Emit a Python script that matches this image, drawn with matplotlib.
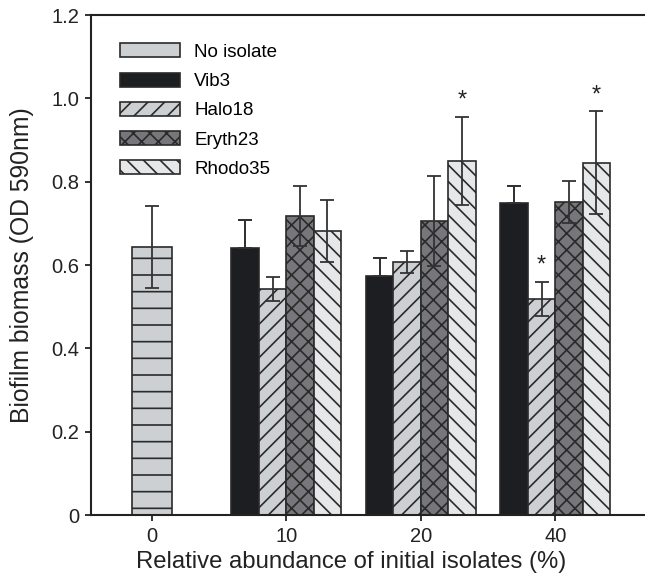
#!/usr/bin/env python3
"""Biofilm biomass vs. relative abundance of initial isolates (grouped bars)."""

import matplotlib.pyplot as plt
import numpy as np

plt.rcParams["font.family"] = ["Liberation Sans", "DejaVu Sans"]
plt.rcParams["hatch.linewidth"] = 1.2

# ---------------------------------------------------------------------------
# Data (OD 590nm, mean and error)
# ---------------------------------------------------------------------------
group_labels = ["0", "10", "20", "40"]

no_isolate_mean = 0.644
no_isolate_err = 0.098

series_names = ["Vib3", "Halo18", "Eryth23", "Rhodo35"]
vib3_mean = [0.641, 0.574, 0.750]
vib3_err = [0.067, 0.043, 0.040]
halo18_mean = [0.543, 0.608, 0.519]
halo18_err = [0.029, 0.026, 0.041]
eryth23_mean = [0.718, 0.706, 0.752]
eryth23_err = [0.072, 0.108, 0.050]
rhodo35_mean = [0.681, 0.850, 0.846]
rhodo35_err = [0.074, 0.106, 0.123]

# significance markers (*) per series and group (10, 20, 40)
vib3_sig = [False, False, False]
halo18_sig = [False, False, True]
eryth23_sig = [False, False, False]
rhodo35_sig = [False, True, True]

# ---------------------------------------------------------------------------
EDGE = "#2a2a2a"
STYLES = {
    "Vib3": dict(color="#1d1e21", hatch=None),
    "Halo18": dict(color="#cdd0d3", hatch="//"),
    "Eryth23": dict(color="#77777b", hatch="xx"),
    "Rhodo35": dict(color="#e6e7e9", hatch="\\\\"),
}


def main() -> None:
    fig = plt.figure(figsize=(6.45, 5.8), dpi=100)
    ax = fig.add_axes([0.141, 0.112, 0.87, 0.862])

    err_kw = dict(ecolor="#333333", elinewidth=1.3, capsize=5, capthick=1.3)

    # control bar
    ax.bar(0, no_isolate_mean, width=0.30, color="#cdd0d3", edgecolor=EDGE,
           linewidth=1.2, hatch="-", label="No isolate", zorder=2)
    ax.errorbar(0, no_isolate_mean, yerr=no_isolate_err, fmt="none",
                zorder=3, **err_kw)

    means = [vib3_mean, halo18_mean, eryth23_mean, rhodo35_mean]
    errs = [vib3_err, halo18_err, eryth23_err, rhodo35_err]
    sigs = [vib3_sig, halo18_sig, eryth23_sig, rhodo35_sig]

    x = np.arange(1, len(group_labels))
    w = 0.204
    for i, name in enumerate(series_names):
        xs = x + (i - 1.5) * w
        st = STYLES[name]
        ax.bar(xs, means[i], width=w, color=st["color"], edgecolor=EDGE,
               linewidth=1.2, hatch=st["hatch"], label=name, zorder=2)
        ecol = st["color"] if name == "Vib3" else err_kw["ecolor"]
        kw = dict(err_kw, ecolor=ecol)
        ax.errorbar(xs, means[i], yerr=errs[i], fmt="none", zorder=3, **kw)
        if name == "Vib3":
            # upper half stays visible above the black bar
            ax.errorbar(xs, means[i], yerr=[np.zeros(len(xs)), errs[i]],
                        fmt="none", zorder=3, **err_kw)
        for xi, m, e, s in zip(xs, means[i], errs[i], sigs[i]):
            if s:
                ax.text(xi, m + e + 0.012, "*", ha="center", va="bottom",
                        fontsize=17, color="#222222")

    ax.set_xlim(-0.452, 3.72)
    ax.set_ylim(0, 1.2)
    ax.set_xticks(np.arange(len(group_labels)))
    ax.set_xticklabels(group_labels)
    ax.set_yticks(np.arange(0, 1.21, 0.2))
    ax.yaxis.set_major_formatter(
        plt.FuncFormatter(lambda y, _: "0" if abs(y) < 1e-9 else f"{y:.1f}"))

    for side in ("left", "bottom", "top"):
        ax.spines[side].set_linewidth(1.5)
        ax.spines[side].set_color("#222222")
    ax.spines["right"].set_visible(False)
    ax.tick_params(axis="both", direction="out", length=4.5, width=1.3,
                   color="#222222", labelsize=14.5, labelcolor="#222222", pad=4)

    ax.set_xlabel("Relative abundance of initial isolates (%)", fontsize=17.2,
                  color="#222222")
    ax.xaxis.set_label_coords(0.463, -0.072)
    ax.set_ylabel("Biofilm biomass (OD 590nm)", fontsize=17.8,
                  color="#222222")
    ax.yaxis.set_label_coords(-0.102, 0.5)

    ax.legend(loc="upper left", bbox_to_anchor=(0.045, 0.951), frameon=False,
              fontsize=13.5, handlelength=3.2, handleheight=0.78,
              handletextpad=0.75, labelspacing=0.62, borderaxespad=0,
              borderpad=0.2)

    fig.savefig("out.png", dpi=100)


if __name__ == "__main__":
    main()
